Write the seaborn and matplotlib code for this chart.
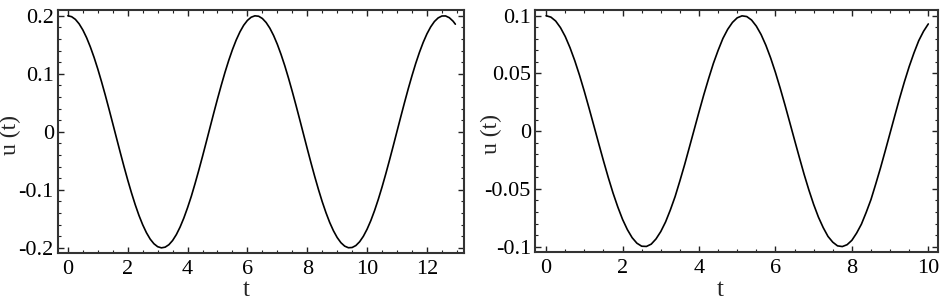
import matplotlib
matplotlib.use('Agg')
import matplotlib.pyplot as plt
from matplotlib.ticker import MultipleLocator, FuncFormatter
import seaborn as sns
import pandas as pd

# left panel: u(t)
t_left = [0, 0.125, 0.25, 0.375, 0.5, 0.625, 0.75, 0.875,
          1.0, 1.125, 1.25, 1.375, 1.5, 1.625, 1.75, 1.875,
          2.0, 2.125, 2.25, 2.375, 2.5, 2.625, 2.75, 2.875,
          3.0, 3.125, 3.25, 3.375, 3.5, 3.625, 3.75, 3.875,
          4.0, 4.125, 4.25, 4.375, 4.5, 4.625, 4.75, 4.875,
          5.0, 5.125, 5.25, 5.375, 5.5, 5.625, 5.75, 5.875,
          6.0, 6.125, 6.25, 6.375, 6.5, 6.625, 6.75, 6.875,
          7.0, 7.125, 7.25, 7.375, 7.5, 7.625, 7.75, 7.875,
          8.0, 8.125, 8.25, 8.375, 8.5, 8.625, 8.75, 8.875,
          9.0, 9.125, 9.25, 9.375, 9.5, 9.625, 9.75, 9.875,
          10.0, 10.125, 10.25, 10.375, 10.5, 10.625, 10.75, 10.875,
          11.0, 11.125, 11.25, 11.375, 11.5, 11.625, 11.75, 11.875,
          12.0, 12.125, 12.25, 12.375, 12.5, 12.625, 12.75, 12.875, 12.95]
u_left = [0.2000, 0.1984, 0.1938, 0.1861, 0.1755, 0.1622, 0.1463, 0.1282,
          0.1081, 0.0862, 0.0631, 0.0389, 0.0141, -0.0108, -0.0356, -0.0599,
          -0.0832, -0.1052, -0.1256, -0.1441, -0.1602, -0.1739, -0.1849, -0.1929,
          -0.1980, -0.2000, -0.1988, -0.1946, -0.1873, -0.1771, -0.1641, -0.1486,
          -0.1307, -0.1111, -0.0892, -0.0662, -0.0422, -0.0175, 0.0075, 0.0324,
          0.0567, 0.0801, 0.1024, 0.1230, 0.1417, 0.1582, 0.1722, 0.1836,
          0.1920, 0.1975, 0.1999, 0.1992, 0.1953, 0.1884, 0.1786, 0.1660,
          0.1508, 0.1332, 0.1137, 0.0922, 0.0693, 0.0454, 0.0208, -0.0042,
          -0.0291, -0.0535, -0.0771, -0.0995, -0.1204, -0.1393, -0.1562, -0.1705,
          -0.1822, -0.1911, -0.1970, -0.1998, -0.1994, -0.1960, -0.1895, -0.1801,
          -0.1678, -0.1530, -0.1357, -0.1163, -0.0951, -0.0724, -0.0486, -0.0241,
          0.0009, 0.0258, 0.0503, 0.0741, 0.0966, 0.1178, 0.1370, 0.1541,
          0.1688, 0.1808, 0.1901, 0.1963, 0.1996, 0.1997, 0.1966, 0.1906, 0.1855]

# right panel
t_right = [0, 0.125, 0.25, 0.375, 0.5, 0.625, 0.75, 0.875,
           1.0, 1.125, 1.25, 1.375, 1.5, 1.625, 1.75, 1.875,
           2.0, 2.125, 2.25, 2.375, 2.5, 2.625, 2.75, 2.875,
           3.0, 3.125, 3.25, 3.375, 3.5, 3.625, 3.75, 3.875,
           4.0, 4.125, 4.25, 4.375, 4.5, 4.625, 4.75, 4.875,
           5.0, 5.125, 5.25, 5.375, 5.5, 5.625, 5.75, 5.875,
           6.0, 6.125, 6.25, 6.375, 6.5, 6.625, 6.75, 6.875,
           7.0, 7.125, 7.25, 7.375, 7.5, 7.625, 7.75, 7.875,
           8.0, 8.125, 8.25, 8.375, 8.5, 8.625, 8.75, 8.875,
           9.0, 9.125, 9.25, 9.375, 9.5, 9.625, 9.75, 9.875, 10.0]
u_right = [0.1000, 0.0988, 0.0954, 0.0897, 0.0820, 0.0723, 0.0610, 0.0483,
           0.0344, 0.0197, 0.0046, -0.0106, -0.0256, -0.0400, -0.0535, -0.0656,
           -0.0764, -0.0852, -0.0922, -0.0970, -0.0996, -0.0998, -0.0978, -0.0933,
           -0.0869, -0.0786, -0.0682, -0.0566, -0.0430, -0.0288, -0.0137, 0.0015,
           0.0167, 0.0315, 0.0454, 0.0586, 0.0700, 0.0803, 0.0882, 0.0942,
           0.0982, 0.0999, 0.0993, 0.0963, 0.0910, 0.0837, 0.0744, 0.0634,
           0.0509, 0.0372, 0.0227, 0.0076, -0.0076, -0.0226, -0.0373, -0.0509,
           -0.0634, -0.0744, -0.0835, -0.0911, -0.0961, -0.0993, -0.0999, -0.0983,
           -0.0945, -0.0882, -0.0805, -0.0703, -0.0592, -0.0457, -0.0317, -0.0168,
           -0.0016, 0.0136, 0.0286, 0.0428, 0.0560, 0.0678, 0.0784, 0.0865, 0.0929]

sns.set_style('ticks')
plt.rcParams['font.family'] = ['Liberation Serif', 'DejaVu Serif']

fig = plt.figure(figsize=(9.42, 3.02), dpi=100)

panels = [
    # t, u, axes rect, xlim, ylim, y major, y minor, ylabel x, xlabel x/y (baseline)
    (t_left, u_left, [0.0616, 0.162, 0.431, 0.805], (-0.33, 13.24), (-0.209, 0.21),
     0.1, 0.02, -0.091, 0.463, -0.178),
    (t_right, u_right, [0.568, 0.166, 0.428, 0.801], (-0.29, 10.26), (-0.1045, 0.105),
     0.05, 0.01, -0.082, 0.459, -0.183),
]

for t, u, rect, xlim, ylim, ymaj, ymin, ylx, xlx, xly in panels:
    ax = fig.add_axes(rect)
    df = pd.DataFrame({'t': t, 'u': u})
    sns.lineplot(data=df, x='t', y='u', ax=ax, color='black', linewidth=1.2)
    ax.set_xlim(*xlim)
    ax.set_ylim(*ylim)
    ax.xaxis.set_major_locator(MultipleLocator(2))
    ax.xaxis.set_minor_locator(MultipleLocator(0.5))
    ax.yaxis.set_major_locator(MultipleLocator(ymaj))
    ax.yaxis.set_minor_locator(MultipleLocator(ymin))
    ax.yaxis.set_major_formatter(FuncFormatter(
        lambda v, p: '0' if abs(v) < 1e-9 else ('%g' % v)))
    ax.tick_params(which='both', direction='in', top=True, right=True,
                   labelsize=16, colors='#222222', labelcolor='black')
    ax.tick_params(axis='x', pad=5)
    ax.tick_params(axis='y', pad=3)
    ax.tick_params(which='major', length=4, width=1)
    ax.tick_params(which='minor', length=2, width=0.8)
    for s in ax.spines.values():
        s.set_linewidth(1.5)
        s.set_color('#333333')
    ax.set_xlabel('t', fontsize=18, va='baseline')
    ax.set_ylabel('u (t)', fontsize=17)
    ax.xaxis.set_label_coords(xlx, xly)
    ax.yaxis.set_label_coords(ylx, 0.486)

fig.savefig('out.png', dpi=100)
